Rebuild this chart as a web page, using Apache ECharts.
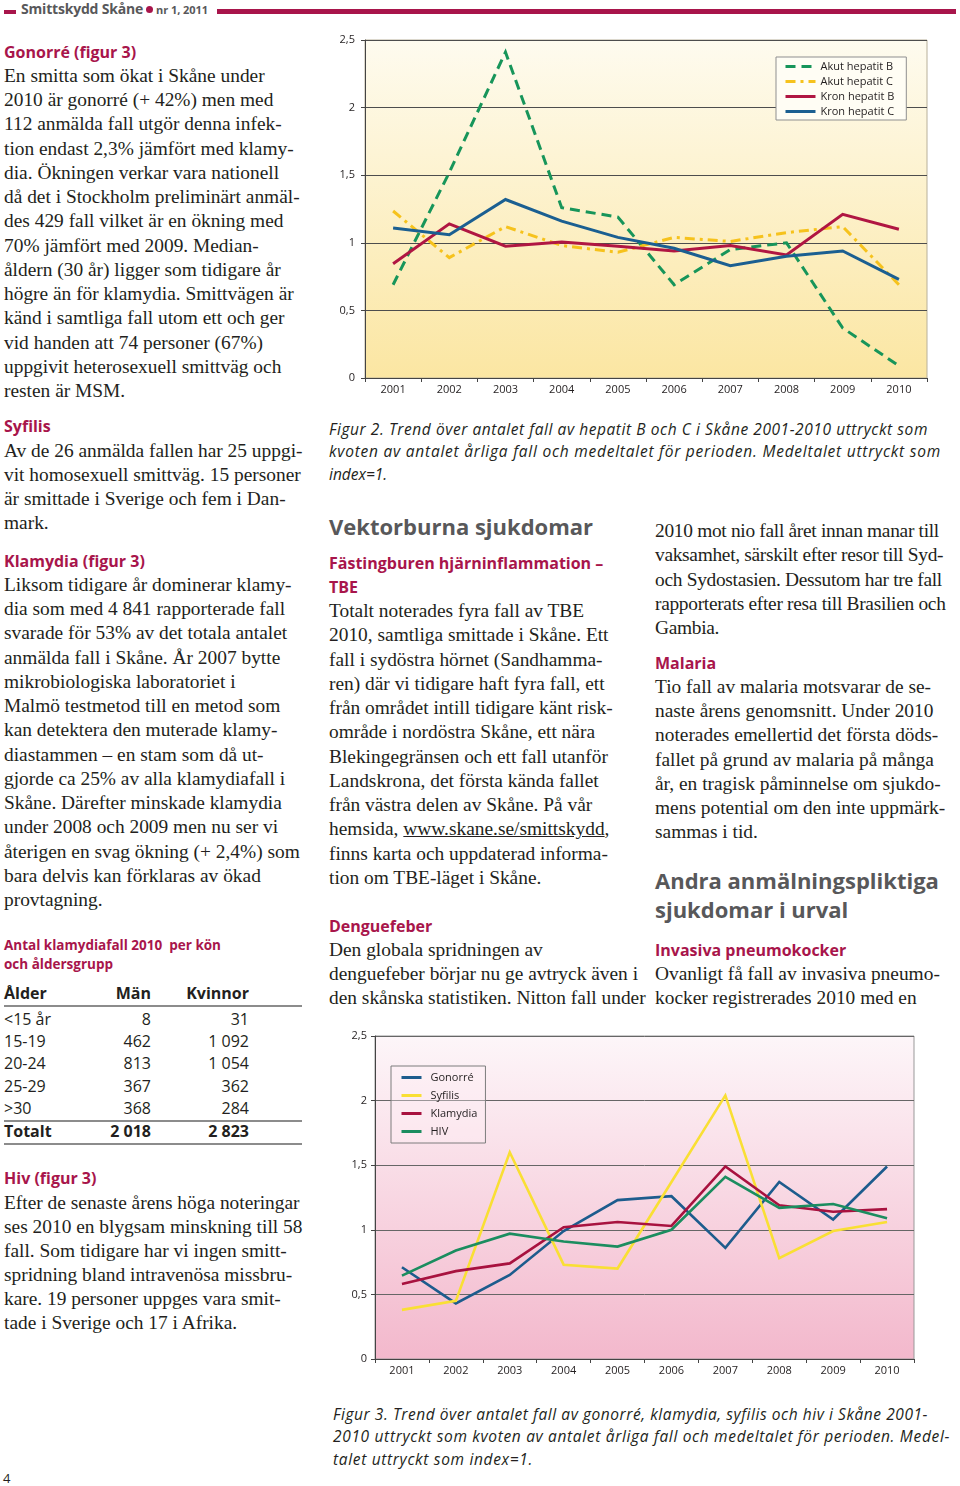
<!DOCTYPE html>
<html>
<head>
<meta charset="utf-8">
<script src="https://cdn.jsdelivr.net/npm/echarts@6/dist/echarts.min.js"></script>
<style>
html,body{margin:0;padding:0;background:#fff;}
#page{position:relative;width:960px;height:1486px;overflow:hidden;}
.t{position:absolute;white-space:pre;}
.p{font-family:"Liberation Serif",serif;font-size:19.4px;color:#231f20;}
.h{font-family:"Open Sans",sans-serif;font-weight:700;font-size:16px;color:#a8154b;}
.h2{font-family:"Open Sans",sans-serif;font-weight:700;font-size:22px;color:#58585a;}
.cap{font-family:"Open Sans",sans-serif;font-style:italic;font-size:15.5px;color:#231f20;line-height:22px;}
.tbl{font-family:"Open Sans",sans-serif;font-size:16px;color:#231f20;line-height:22px;}
.rule{position:absolute;background:#8c8c8c;height:1.5px;}
u{text-decoration:underline;}
</style>
</head>
<body>
<div id="page">
<!-- header -->
<div style="position:absolute;left:4px;top:10px;width:12px;height:4px;background:#a8154b"></div>
<div class="t" data-w="122" style="left:21px;top:-1px;line-height:20px;font-family:'Open Sans',sans-serif;font-weight:700;font-size:14px;color:#58585a">Smittskydd Skåne</div>
<div style="position:absolute;left:146px;top:6px;width:7px;height:7px;border-radius:50%;background:#a8154b"></div>
<div class="t" data-w="52" style="left:156px;top:1px;line-height:18px;font-family:'Open Sans',sans-serif;font-weight:700;font-size:11px;color:#58585a">nr 1, 2011</div>
<div style="position:absolute;left:217px;top:9px;width:739px;height:5px;background:#a8154b"></div>

<!-- left column -->
<div class="t h" style="left:4px;top:41px;line-height:22px">Gonorré (figur 3)</div>
<div class="t p" style="left:4px;top:64px;line-height:24.23px">En smitta som ökat i Skåne under
2010 är gonorré (+ 42%) men med
112 anmälda fall utgör denna infek-
tion endast 2,3% jämfört med klamy-
dia. Ökningen verkar vara nationell
då det i Stockholm preliminärt anmäl-
des 429 fall vilket är en ökning med
70% jämfört med 2009. Median-
åldern (30 år) ligger som tidigare år
högre än för klamydia. Smittvägen är
känd i samtliga fall utom ett och ger
vid handen att 74 personer (67%)
uppgivit heterosexuell smittväg och
resten är MSM.</div>
<div class="t h" style="left:4px;top:415px;line-height:22px">Syfilis</div>
<div class="t p" style="left:4px;top:439px;line-height:24.1px">Av de 26 anmälda fallen har 25 uppgi-
vit homosexuell smittväg. 15 personer
är smittade i Sverige och fem i Dan-
mark.</div>
<div class="t h" style="left:4px;top:550px;line-height:22px">Klamydia (figur 3)</div>
<div class="t p" style="left:4px;top:573px;line-height:24.23px">Liksom tidigare år dominerar klamy-
dia som med 4 841 rapporterade fall
svarade för 53% av det totala antalet
anmälda fall i Skåne. År 2007 bytte
mikrobiologiska laboratoriet i
Malmö testmetod till en metod som
kan detektera den muterade klamy-
diastammen – en stam som då ut-
gjorde ca 25% av alla klamydiafall i
Skåne. Därefter minskade klamydia
under 2008 och 2009 men nu ser vi
återigen en svag ökning (+ 2,4%) som
bara delvis kan förklaras av ökad
provtagning.</div>
<div class="t" data-w="217" style="left:4px;top:936px;line-height:19px;font-family:'Open Sans',sans-serif;font-weight:700;font-size:13.5px;color:#a8154b">Antal klamydiafall 2010  per kön</div>
<div class="t" style="left:4px;top:955px;line-height:19px;font-family:'Open Sans',sans-serif;font-weight:700;font-size:13.5px;color:#a8154b">och åldersgrupp</div>
<div id="table"></div>
<div class="t h" style="left:4px;top:1167px;line-height:22px">Hiv (figur 3)</div>
<div class="t p" style="left:4px;top:1191px;line-height:24px">Efter de senaste årens höga noteringar
ses 2010 en blygsam minskning till 58
fall. Som tidigare har vi ingen smitt-
spridning bland intravenösa missbru-
kare. 19 personer uppges vara smit-
tade i Sverige och 17 i Afrika.</div>
<div class="t" style="left:3px;top:1469px;line-height:18px;font-family:'Open Sans',sans-serif;font-size:13px;color:#231f20">4</div>

<!-- chart 1 -->
<div id="c1" style="position:absolute;left:330px;top:30px;width:610px;height:375px"></div>
<div class="t cap" data-w="599" style="left:329px;top:418px">Figur 2. Trend över antalet fall av hepatit B och C i Skåne 2001-2010 uttryckt som</div>
<div class="t cap" data-w="612" style="left:329px;top:440px">kvoten av antalet årliga fall och medeltalet för perioden. Medeltalet uttryckt som</div>
<div class="t cap" style="left:329px;top:463px">index=1.</div>

<!-- middle column -->
<div class="t h2" style="left:329px;top:511px;line-height:30px">Vektorburna sjukdomar</div>
<div class="t h" style="left:329px;top:551px;line-height:24px">Fästingburen hjärninflammation –
TBE</div>
<div class="t p" style="left:329px;top:599px;line-height:24.27px">Totalt noterades fyra fall av TBE
2010, samtliga smittade i Skåne. Ett
fall i sydöstra hörnet (Sandhamma-
ren) där vi tidigare haft fyra fall, ett
från området intill tidigare känt risk-
område i nordöstra Skåne, ett nära
Blekingegränsen och ett fall utanför
Landskrona, det första kända fallet
från västra delen av Skåne. På vår
hemsida, <u>www.skane.se/smittskydd</u>,
finns karta och uppdaterad informa-
tion om TBE-läget i Skåne.</div>
<div class="t h" style="left:329px;top:915px;line-height:22px">Denguefeber</div>
<div class="t p" style="left:329px;top:938px;line-height:24px">Den globala spridningen av
denguefeber börjar nu ge avtryck även i
den skånska statistiken. Nitton fall under</div>

<!-- right column -->
<div class="t p" style="left:655px;top:519px;line-height:24.25px;letter-spacing:-0.3px">2010 mot nio fall året innan manar till
vaksamhet, särskilt efter resor till Syd-
och Sydostasien. Dessutom har tre fall
rapporterats efter resa till Brasilien och
Gambia.</div>
<div class="t h" style="left:655px;top:652px;line-height:22px">Malaria</div>
<div class="t p" style="left:655px;top:675px;line-height:24.17px">Tio fall av malaria motsvarar de se-
naste årens genomsnitt. Under 2010
noterades emellertid det första döds-
fallet på grund av malaria på många
år, en tragisk påminnelse om sjukdo-
mens potential om den inte uppmärk-
sammas i tid.</div>
<div class="t h2" style="left:655px;top:866px;line-height:29px">Andra anmälningspliktiga
sjukdomar i urval</div>
<div class="t h" style="left:655px;top:939px;line-height:22px">Invasiva pneumokocker</div>
<div class="t p" style="left:655px;top:962px;line-height:24px">Ovanligt få fall av invasiva pneumo-
kocker registrerades 2010 med en</div>

<!-- chart 2 -->
<div id="c2" style="position:absolute;left:340px;top:1020px;width:590px;height:365px"></div>
<div class="t cap" data-w="595" style="left:333px;top:1403px">Figur 3. Trend över antalet fall av gonorré, klamydia, syfilis och hiv i Skåne 2001-</div>
<div class="t cap" data-w="617" style="left:333px;top:1425px">2010 uttryckt som kvoten av antalet årliga fall och medeltalet för perioden. Medel-</div>
<div class="t cap" data-w="200" style="left:333px;top:1448px">talet uttryckt som index=1.</div>
</div>

<script>
// ---------- data ----------
const years = ['2001','2002','2003','2004','2005','2006','2007','2008','2009','2010'];

// Figur 2 – hepatit (index, medeltal = 1)
const akutHepatitB = [0.69, 1.52, 2.41, 1.26, 1.19, 0.69, 0.95, 1.00, 0.37, 0.09];
const akutHepatitC = [1.235, 0.89, 1.12, 0.98, 0.93, 1.04, 1.01, 1.075, 1.12, 0.69];
const kronHepatitB = [0.845, 1.14, 0.975, 1.005, 0.975, 0.94, 0.98, 0.91, 1.21, 1.10];
const kronHepatitC = [1.11, 1.06, 1.32, 1.16, 1.04, 0.96, 0.83, 0.90, 0.94, 0.73];

// Figur 3 – STI (index, medeltal = 1)
const gonorre  = [0.71, 0.43, 0.65, 0.99, 1.23, 1.26, 0.86, 1.37, 1.08, 1.49];
const syfilis  = [0.38, 0.45, 1.60, 0.73, 0.70, 1.37, 2.04, 0.78, 0.99, 1.06];
const klamydia = [0.58, 0.68, 0.74, 1.02, 1.06, 1.03, 1.49, 1.19, 1.14, 1.16];
const hiv      = [0.645, 0.84, 0.97, 0.91, 0.87, 1.00, 1.41, 1.17, 1.20, 1.09];

// Tabell – klamydiafall 2010
const tableHeader = ['Ålder', 'Män', 'Kvinnor'];
const ageGroups = ['<15 år', '15-19', '20-24', '25-29', '>30'];
const men   = [8, 462, 813, 367, 368];
const women = [31, 1092, 1054, 362, 284];
const totalLabel = 'Totalt';

// ---------- table ----------
(function(){
  const page = document.getElementById('page');
  const fmt2 = n => { const s = String(n); return s.length > 3 ? s.slice(0, s.length-3) + ' ' + s.slice(-3) : s; };
  function cell(text, x, cy, right, bold){
    const d = document.createElement('div');
    d.className = 't tbl';
    d.textContent = text;
    d.style.top = (cy - 11) + 'px';
    if (bold) d.style.fontWeight = '700';
    if (right){ d.style.right = (960 - x) + 'px'; } else { d.style.left = x + 'px'; }
    page.appendChild(d);
  }
  function rule(y){ const r = document.createElement('div'); r.className='rule'; r.style.left='4px'; r.style.width='298px'; r.style.top=y+'px'; page.appendChild(r); }
  cell(tableHeader[0], 4, 993, false, true);
  cell(tableHeader[1], 151, 993, true, true);
  cell(tableHeader[2], 249, 993, true, true);
  rule(1005);
  const rowY = [1019, 1041, 1063, 1086, 1108];
  ageGroups.forEach((a, i) => {
    cell(a, 4, rowY[i], false, false);
    cell(fmt2(men[i]), 151, rowY[i], true, false);
    cell(fmt2(women[i]), 249, rowY[i], true, false);
  });
  rule(1120);
  const tm = men.reduce((s, v) => s + v, 0);
  const tw = women.reduce((s, v) => s + v, 0);
  cell(totalLabel, 4, 1131, false, true);
  cell(fmt2(tm), 151, 1131, true, true);
  cell(fmt2(tw), 249, 1131, true, true);
  rule(1143);
})();

// ---------- fit text widths ----------
document.querySelectorAll('[data-w]').forEach(el => {
  const target = +el.dataset.w;
  const nat = el.getBoundingClientRect().width;
  const n = el.textContent.length;
  el.style.letterSpacing = ((target - nat) / n) + 'px';
});

// ---------- charts ----------
const yFmt = v => String(v).replace('.', ',');
function baseAxes(cfg){
  return {
    xAxis: {
      type: 'category', data: years, boundaryGap: true,
      axisLine: { lineStyle: { color: '#444', width: 1 } },
      axisTick: { show: true, length: 4, interval: 0, lineStyle: { color: '#444' } },
      axisLabel: { color: '#231f20', fontSize: 11, fontFamily: 'Open Sans', margin: 6 }
    },
    yAxis: {
      type: 'value', min: 0, max: 2.5, interval: 0.5,
      axisLine: { show: true, lineStyle: { color: '#444', width: 1 } },
      axisTick: { show: true, length: 4, lineStyle: { color: '#444' } },
      axisLabel: { color: '#231f20', fontSize: 11, fontFamily: 'Open Sans', margin: cfg.ylm, formatter: yFmt },
      splitLine: { show: true, lineStyle: { color: cfg.split, width: 1 } }
    }
  };
}
function line(name, data, color, width, type){
  return { name, type: 'line', data, symbol: 'none', showSymbol: false, animation: false,
    lineStyle: { color, width, type: type || 'solid', cap: 'butt', join: 'miter' },
    itemStyle: { color } };
}

const c1 = echarts.init(document.getElementById('c1'), null, { renderer: 'canvas' });
c1.setOption(Object.assign(baseAxes({ ylm: 10, split: '#4d4d4d' }), {
  animation: false,
  grid: { left: 35, top: 10, width: 562, height: 338, show: true, borderColor: '#b8b09a', borderWidth: 1,
    backgroundColor: { type: 'linear', x: 0, y: 0, x2: 0, y2: 1,
      colorStops: [{ offset: 0, color: '#fefbef' }, { offset: 1, color: '#fbe6a2' }] } },
  legend: { orient: 'vertical', left: 446, top: 27, itemWidth: 30, itemHeight: 11, itemGap: 4,
    padding: [4, 12, 3, 8], backgroundColor: '#fffdf4', borderColor: '#8f8f8f', borderWidth: 1,
    itemStyle: { opacity: 0 }, lineStyle: { width: 3 },
    textStyle: { fontSize: 11, fontFamily: 'Open Sans', color: '#231f20' },
    data: ['Akut hepatit B', 'Akut hepatit C', 'Kron hepatit B', 'Kron hepatit C'] },
  series: [
    line('Akut hepatit B', akutHepatitB, '#17955a', 3, [10, 6]),
    line('Akut hepatit C', akutHepatitC, '#f6c21c', 3, [10, 5, 3, 5]),
    line('Kron hepatit B', kronHepatitB, '#b01642', 3),
    line('Kron hepatit C', kronHepatitC, '#1b5f91', 3)
  ]
}));

const c2 = echarts.init(document.getElementById('c2'), null, { renderer: 'canvas' });
c2.setOption(Object.assign(baseAxes({ ylm: 8, split: '#666' }), {
  animation: false,
  grid: { left: 35, top: 16, width: 539, height: 323, show: true, borderColor: '#999', borderWidth: 1,
    backgroundColor: { type: 'linear', x: 0, y: 0, x2: 0, y2: 1,
      colorStops: [{ offset: 0, color: '#fdf6f9' }, { offset: 1, color: '#f3b8cc' }] } },
  legend: { orient: 'vertical', left: 51, top: 46, itemWidth: 20, itemHeight: 12, itemGap: 7,
    padding: [6, 8, 6, 9], backgroundColor: 'rgba(255,240,245,0.35)', borderColor: '#7d7d7d', borderWidth: 1,
    itemStyle: { opacity: 0 }, lineStyle: { width: 3 },
    textStyle: { fontSize: 11, fontFamily: 'Open Sans', color: '#231f20', padding: [0, 0, 0, 4] },
    data: ['Gonorré', 'Syfilis', 'Klamydia', 'HIV'] },
  series: [
    line('Gonorré', gonorre, '#1d5c8d', 2.6),
    line('Syfilis', syfilis, '#f9df34', 2.6),
    line('Klamydia', klamydia, '#a8123f', 2.6),
    line('HIV', hiv, '#1b8d5f', 2.6)
  ]
}));
</script>
</body>
</html>
